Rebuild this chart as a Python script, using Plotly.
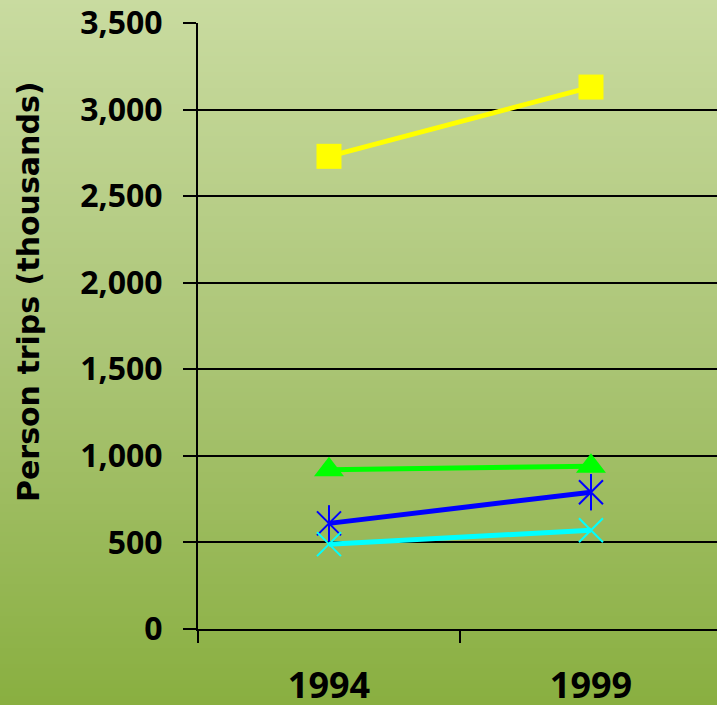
import plotly.graph_objects as go

# Person trips by year (thousands)
years = ["1994", "1999"]
series_a = [2730, 3130]   # yellow squares
series_b = [920, 940]     # green triangles
series_c = [610, 790]     # blue stars
series_d = [490, 570]     # cyan crosses

y_ticks = [0, 500, 1000, 1500, 2000, 2500, 3000, 3500]
y_tick_text = ["0", "500", "1,000", "1,500", "2,000", "2,500", "3,000", "3,500"]
y_title = "Person trips (thousands)"

W, H = 717, 705
ML, MT, MB, MR = 198, 23, 76, 0

fig = go.Figure()

line_w = 5
fig.add_trace(go.Scatter(
    x=years, y=series_a, mode="lines+markers",
    line=dict(color="#FFFF00", width=line_w),
    marker=dict(symbol="square", size=25, color="#FFFF00"),
))
fig.add_trace(go.Scatter(
    x=years, y=series_b, mode="lines+markers",
    line=dict(color="#00FF00", width=line_w),
    marker=dict(symbol="triangle-up", size=26, color="#00FF00"),
))
fig.add_trace(go.Scatter(
    x=years, y=series_c, mode="lines+markers",
    line=dict(color="#0000FF", width=line_w),
    marker=dict(symbol="x-thin-open", size=24, color="#0000FF",
                line=dict(color="#0000FF", width=2)),
))
fig.add_trace(go.Scatter(
    x=years, y=series_c, mode="markers",
    marker=dict(symbol="line-ns-open", size=26, color="#0000FF",
                line=dict(color="#0000FF", width=2)),
))
fig.add_trace(go.Scatter(
    x=years, y=series_d, mode="lines+markers",
    line=dict(color="#00FFFF", width=line_w),
    marker=dict(symbol="x-thin-open", size=24, color="#00FFFF",
                line=dict(color="#00FFFF", width=2)),
))

# vertical background gradient, drawn as thin bands in paper coordinates
stops = [(0.0, (201, 219, 160)), (0.5, (171, 197, 118)), (1.0, (137, 175, 64))]

def grad(t):
    for (t0, c0), (t1, c1) in zip(stops[:-1], stops[1:]):
        if t <= t1:
            f = (t - t0) / (t1 - t0)
            return tuple(round(a + (b - a) * f) for a, b in zip(c0, c1))
    return stops[-1][1]

pw, ph = W - ML - MR, H - MT - MB
band = 4
shapes = []
for py in range(0, H, band):
    r, g, b = grad((py + band / 2) / H)
    y_top = (H - MB - py) / ph
    y_bot = (H - MB - py - band - 1) / ph
    shapes.append(dict(
        type="rect", xref="paper", yref="paper", layer="below",
        x0=-ML / pw - 0.01, x1=1.01, y0=y_bot, y1=y_top,
        line=dict(width=0), fillcolor=f"rgb({r},{g},{b})",
    ))

font_family = "Open Sans"
fig.update_layout(
    width=W, height=H,
    margin=dict(l=ML, r=MR, t=MT, b=MB, autoexpand=False),
    paper_bgcolor="rgb(171,197,118)",
    plot_bgcolor="rgba(0,0,0,0)",
    showlegend=False,
    shapes=shapes,
    font=dict(family=font_family, color="black"),
    xaxis=dict(
        type="category", range=[-0.5, 1.481], automargin=False,
        tickson="boundaries", ticks="outside", ticklen=12, tickwidth=2,
        tickcolor="black", showgrid=False,
        showline=True, linecolor="black", linewidth=2,
        tickfont=dict(size=36, family=font_family, weight="bold"),
        ticklabelstandoff=24,
        fixedrange=True,
    ),
    yaxis=dict(
        range=[0, 3500], tickvals=y_ticks, ticktext=y_tick_text,
        automargin=False,
        ticks="outside", ticklen=13, tickwidth=2, tickcolor="black",
        showgrid=True, gridcolor="black", gridwidth=2,
        showline=True, linecolor="black", linewidth=2,
        zeroline=False,
        tickfont=dict(size=32, family=font_family, weight="bold"),
        ticklabelstandoff=14,
        fixedrange=True,
    ),
    annotations=[dict(
        text=y_title, textangle=-90, showarrow=False,
        xref="paper", yref="paper",
        x=(28 - ML) / pw, y=(H - MB - 292) / ph,
        xanchor="center", yanchor="middle",
        font=dict(size=30, family="DejaVu Sans", weight="bold", color="black"),
    )],
)

fig.write_html("out.html")
